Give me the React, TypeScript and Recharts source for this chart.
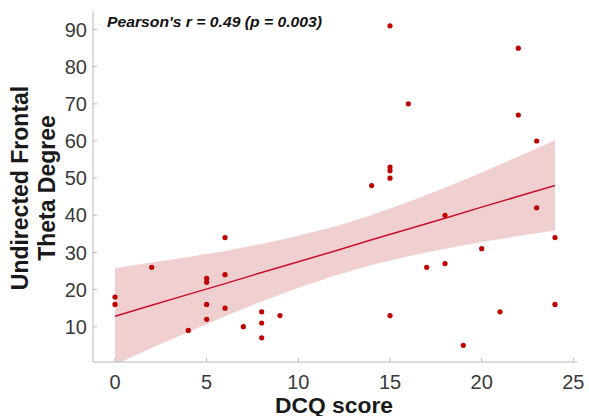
import React from "react";
import {
  ComposedChart,
  XAxis,
  YAxis,
  Scatter,
  Line,
  Area,
} from "recharts";

// Observations (DCQ score, theta degree)
const dcqScores = [0, 0, 2, 4, 5, 5, 5, 5, 6, 6, 6, 7, 8, 8, 8, 9, 14, 15, 15, 15, 15, 15, 16, 17, 18, 18, 19, 20, 21, 22, 22, 23, 23, 24, 24];
const thetaValues = [18, 16, 26, 9, 23, 22, 16, 12, 34, 24, 15, 10, 14, 11, 7, 13, 48, 91, 53, 52, 50, 13, 70, 26, 40, 27, 5, 31, 14, 85, 67, 60, 42, 34, 16];

// Regression fit and confidence band
const fitX = [0, 2, 4, 6, 8, 10, 12, 14, 16, 18, 20, 22, 24];
const fitY = [12.8, 15.8, 18.7, 21.6, 24.6, 27.5, 30.4, 33.4, 36.3, 39.2, 42.2, 45.1, 48.0];
const bandLower = [-0.2, 4.3, 8.6, 12.8, 16.8, 20.5, 23.8, 26.6, 29.0, 31.0, 32.8, 34.4, 35.9];
const bandUpper = [25.8, 27.3, 28.8, 30.4, 32.3, 34.5, 37.0, 40.1, 43.6, 47.4, 51.5, 55.8, 60.2];

const xTicks = [0, 5, 10, 15, 20, 25];
const yTicks = [10, 20, 30, 40, 50, 60, 70, 80, 90];

const annotation = "Pearson's r = 0.49 (p = 0.003)";
const xLabel = "DCQ score";
const yLabelLines = ["Undirected Frontal", "Theta Degree"];

const points = dcqScores.map((x, i) => ({ x, y: thetaValues[i] }));
const fitData = fitX.map((x, i) => ({
  x,
  fit: fitY[i],
  band: [bandLower[i], bandUpper[i]],
}));

const FONT = "'Liberation Sans', Arial, Helvetica, sans-serif";
const RED = "#c00000";
const AXIS = "#b8b8b8";
const TICK_TEXT = "#3a3a3a";

const Dot = (props: any) => {
  const { cx, cy } = props;
  if (cx == null || cy == null) return null;
  return <circle cx={cx} cy={cy} r={2.6} fill={RED} />;
};

const YLabel = (props: any) => {
  const cy = 188;
  return (
    <g>
      <text
        x={20}
        y={cy}
        transform={`rotate(-90, 20, ${cy})`}
        textAnchor="middle"
        dominantBaseline="central"
        fontFamily={FONT}
        fontWeight="bold"
        fontSize={23}
        fill="#1a1a1a"
      >
        {yLabelLines[0]}
      </text>
      <text
        x={47}
        y={cy}
        transform={`rotate(-90, 47, ${cy})`}
        textAnchor="middle"
        dominantBaseline="central"
        fontFamily={FONT}
        fontWeight="bold"
        fontSize={23}
        fill="#1a1a1a"
      >
        {yLabelLines[1]}
      </text>
      <text
        x={107}
        y={22}
        dominantBaseline="central"
        fontFamily={FONT}
        fontWeight="bold"
        fontStyle="italic"
        fontSize={14.5}
        textLength={215}
        lengthAdjust="spacingAndGlyphs"
        fill="#111"
      >
        {annotation}
      </text>
    </g>
  );
};

const XLabel = (props: any) => {
  return (
    <text
      x={334}
      y={405}
      textAnchor="middle"
      dominantBaseline="central"
      fontFamily={FONT}
      fontWeight="bold"
      fontSize={22}
      textLength={118}
      lengthAdjust="spacingAndGlyphs"
      fill="#1a1a1a"
    >
      {xLabel}
    </text>
  );
};

export default function App() {
  return (
    <div style={{ position: "absolute", left: 0, top: 0 }}>
      <ComposedChart
        width={589}
        height={416}
        data={fitData}
        margin={{ top: 11, right: 12, bottom: 0, left: 0 }}
      >
        <XAxis
          dataKey="x"
          type="number"
          domain={[-1.2, 25.2]}
          ticks={xTicks}
          allowDataOverflow
          stroke={AXIS}
          tickSize={-4}
          tickMargin={17}
          height={54}
          tick={{ fill: TICK_TEXT, fontSize: 20, fontFamily: FONT }}
          label={{ content: XLabel }}
        />
        <YAxis
          type="number"
          domain={[0.5, 95]}
          ticks={yTicks}
          allowDataOverflow
          stroke={AXIS}
          tickSize={-4}
          tickMargin={10}
          width={93}
          tick={{ fill: TICK_TEXT, fontSize: 20, fontFamily: FONT }}
          label={{ content: YLabel }}
        />
        <Area
          dataKey="band"
          stroke="none"
          fill="#efcfd0"
          fillOpacity={1}
          isAnimationActive={false}
          activeDot={false}
        />
        <Line
          dataKey="fit"
          stroke="#c8102e"
          strokeWidth={1.5}
          dot={false}
          activeDot={false}
          isAnimationActive={false}
        />
        <Scatter
          data={points}
          dataKey="y"
          fill={RED}
          shape={Dot}
          isAnimationActive={false}
        />
      </ComposedChart>
    </div>
  );
}
